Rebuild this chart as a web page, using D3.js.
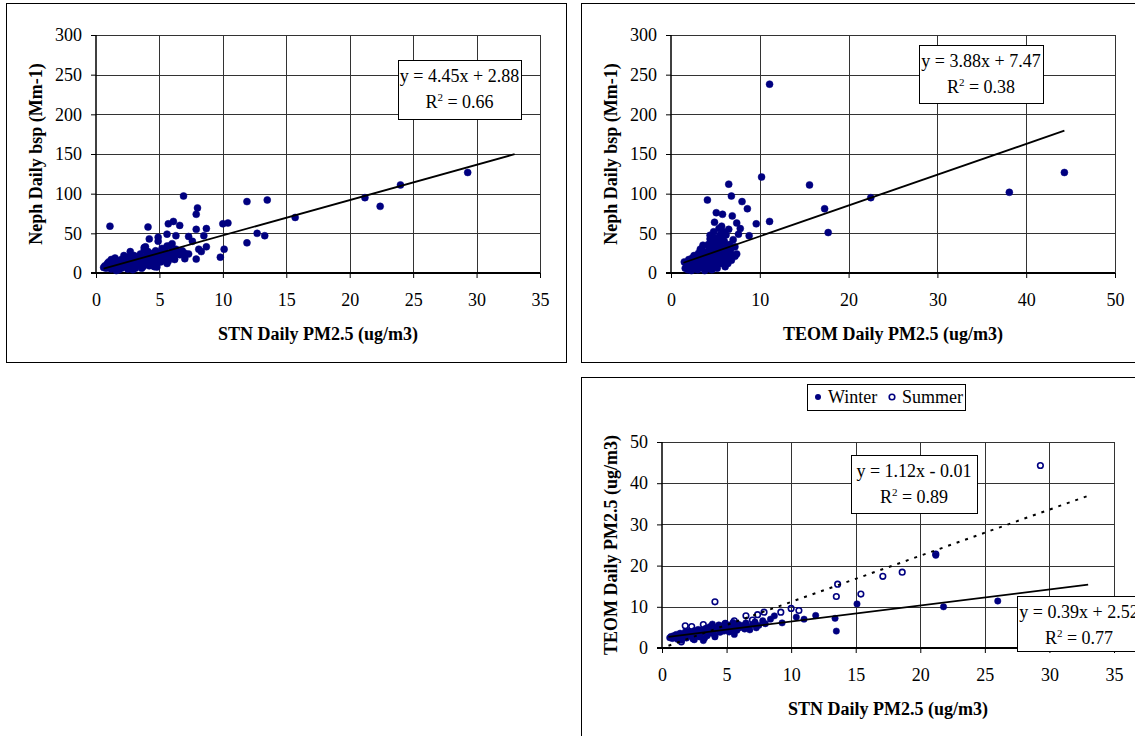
<!doctype html>
<html>
  <head>
    <meta charset="utf-8">
    <title>Neph / STN / TEOM scatter</title>
    <script src="https://cdn.jsdelivr.net/npm/d3@7"></script>
    <style>
      body { margin: 0; background: #fff; }
      svg { display: block; font-family: "Liberation Serif", "Times New Roman", serif; }
      .frame { fill: none; stroke: #000; stroke-width: 1; }
      .grid line { stroke: #333; stroke-width: 1; shape-rendering: crispEdges; }
      .tick text { font-size: 18px; fill: #000; }
      .tick line { stroke: #000; }
      .title { font-size: 18px; font-weight: bold; }
      .eqbox { fill: #fff; stroke: #000; stroke-width: 1; }
      .eq { font-size: 18px; }
    </style>
  </head>
  <body>
    <svg id="chart" width="1135" height="736"></svg>
    <script>
      // chart 1: STN PM2.5 vs Neph bsp
      var nephStn = [
        [29.3,126.7],[24.0,111],[22.4,84],[21.2,95],[15.7,70],[13.5,92],[11.9,90],[12.7,50],
        [13.3,47],[11.9,38],[10.4,63],[10.0,62],[10.1,30],[9.8,20],[6.9,97],[8.0,82],[7.9,74],
        [7.9,55],[8.7,56],[8.5,47],[8.7,33],[8.1,30],[8.3,27],[7.9,17.5],[7.3,46],[7.6,40],
        [6.6,60],[6.1,65],[5.7,62],[6.3,47],[5.6,49],[6.0,37],[5.6,34],[4.9,45],[4.9,40],
        [4.2,43],[4.1,58],[1.1,59],[4.8,7.5],[3.8,32],[3.8,29],[2.7,27],[7.3,24],[7.0,18],[6.7,26],
        [0.6,7],[0.7,9],[0.8,6],[0.9,12],[1.0,8],[1.0,14],[1.1,10],[1.2,5],[1.3,11],[1.4,16],
        [1.5,9],[1.5,19],[1.6,3],[1.6,13],[1.7,7],[1.8,15],[1.9,10],[2.0,17],[2.0,6],[2.1,12],
        [2.2,8],[2.3,18],[2.3,14],[2.4,10],[2.5,20],[2.5,5],[2.6,15],[2.7,11],[2.8,8],[2.9,19],
        [3.0,13],[3.0,22],[3.1,6],[3.2,16],[3.3,11],[3.3,20],[3.4,9],[3.5,17],[3.5,24],[3.6,13],
        [3.7,8],[3.8,19],[3.9,15],[4.0,22],[4.0,11],[4.1,27],[4.2,17],[4.3,13],[4.4,20],[4.5,25],
        [4.5,15],[4.6,18],[4.7,28],[4.8,12],[4.9,21],[5.0,17],[5.0,25],[5.1,14],[5.2,19],[5.3,22],
        [5.4,30],[5.5,18],[5.5,26],[5.6,21],[5.7,15],[5.8,24],[5.9,19],[6.0,27],[6.1,22],[6.2,17],
        [6.4,25],[6.6,23],[6.8,28],[7.0,25],[1.2,17],[1.8,4],[2.2,22],[2.9,4],[3.6,6],[4.2,9],
        [3.9,33],[4.6,8],[5.2,31],[5.8,34],[6.3,30],[2.0,11],[1.4,6],[2.6,9],[3.1,15],[3.4,12],
        [4.4,10],[5.6,12],[4.8,16]
      ];

      // chart 2: TEOM PM2.5 vs Neph bsp
      var nephTeom = [
        [44.3,126.7],[38.1,101.7],[22.5,95],[17.3,81],[17.7,51],[15.6,111],[11.1,238],[10.2,121],
        [11.1,65],[9.6,62],[8.8,47],[8.6,81],[8.0,90],[6.5,112],[6.8,97],[4.1,92],[6.9,72],
        [5.8,74],[5.1,76],[4.9,64],[7.4,63],[7.8,56],[7.6,49],[7.2,33],[7.2,22],[4.4,47.5],
        [4.4,43],[6.5,55],[5.7,59],[4.3,32],[3.5,31],
        [1.5,14],[1.6,6],[1.8,10],[1.9,4],[2.0,17],[2.1,8],[2.2,12],[2.3,3],[2.4,19],[2.5,9],
        [2.6,14],[2.7,6],[2.8,21],[2.9,11],[3.0,16],[3.0,4],[3.1,25],[3.2,9],[3.3,13],[3.4,19],
        [3.5,7],[3.5,28],[3.6,15],[3.7,22],[3.8,11],[3.9,17],[4.0,5],[4.0,26],[4.1,14],[4.2,20],
        [4.3,9],[4.4,30],[4.5,16],[4.5,24],[4.6,12],[4.7,38],[4.8,19],[4.9,27],[5.0,8],[5.0,34],
        [5.1,22],[5.2,15],[5.3,42],[5.3,28],[5.4,18],[5.5,36],[5.6,24],[5.6,12],[5.7,46],[5.8,30],
        [5.9,20],[6.0,40],[6.0,15],[6.1,26],[6.2,33],[6.3,22],[6.5,18],[6.7,28],[6.9,22],[7.2,21],
        [5.2,6],[4.2,36],[3.3,30],[2.6,22],[5.9,52],[5.5,48],[5.0,44],[4.6,4],[3.8,3],[6.4,12],
        [6.6,36],[7.0,42],[6.2,48],[5.4,56],[6.8,16],[7.4,24],[6.1,8],[4.9,13],[3.6,35],[4.8,52]
      ];

      // chart 3: STN vs TEOM, by season
      var winterPts = [
        [26.0,11.4],[21.8,10.0],[15.1,10.7],[13.5,4.1],[13.4,7.2],[11.9,7.9],[11.0,7.0],[10.4,7.5],
        [9.3,6.1],[8.7,7.8],[8.4,7.0],[21.2,22.5],
        [0.6,2.5],[0.7,2.8],[0.8,2.3],[0.9,3.0],[1.0,2.6],[1.1,3.3],[1.2,2.1],[1.3,3.0],[1.4,3.6],
        [1.5,2.5],[1.6,3.2],[1.7,2.8],[1.8,3.9],[1.9,2.4],[2.0,3.4],[2.1,4.1],[2.2,2.9],[2.3,3.6],
        [2.4,2.2],[2.5,4.2],[2.6,3.1],[2.7,3.8],[2.8,4.5],[2.9,2.7],[3.0,3.5],[3.1,4.3],[3.2,1.8],
        [3.3,3.9],[3.4,4.8],[3.5,3.0],[3.6,4.4],[3.7,5.2],[3.8,3.6],[3.9,5.8],[4.0,4.2],[4.1,3.0],
        [4.2,5.0],[4.3,4.5],[4.4,5.6],[4.5,3.8],[4.6,4.8],[4.7,5.4],[4.8,4.1],[4.9,5.9],[5.0,4.6],
        [5.1,5.2],[5.2,3.9],[5.3,5.6],[5.4,4.4],[5.5,6.2],[5.6,3.3],[5.7,5.0],[5.8,4.3],[5.9,5.8],
        [6.0,4.9],[6.2,5.5],[6.4,4.6],[6.5,6.1],[6.6,5.2],[6.8,4.4],[7.0,5.7],[7.2,6.3],[7.3,4.9],
        [7.5,5.5],[7.8,6.6],[8.0,5.9],[3.3,2.4],[2.5,2.0],[4.1,2.7],[1.5,1.9]
      ];
      var summerPts = [
        [29.3,44.3],[21.2,22.8],[18.6,18.4],[17.1,17.4],[15.4,13.1],[13.6,15.5],[13.5,12.5],
        [10.6,9.1],[10.0,9.6],[9.2,8.7],[7.9,8.7],[7.4,8.1],[6.5,7.8],[4.1,11.2],[1.8,5.4],
        [2.3,5.2],[1.5,1.5],[5.6,6.6],[3.2,5.7],[7.0,6.8],[4.9,6.0]
      ];

      // trendlines: [slope, intercept, xStart, xEnd]
      var fitNephStn = [4.45, 2.88, 0.6, 33];
      var fitNephTeom = [3.88, 7.47, 1.4, 44.3];
      var fitSummer = [1.12, -0.01, 0.5, 33];
      var fitWinter = [0.39, 2.52, 0.5, 33];

      var nephTicks = [0, 50, 100, 150, 200, 250, 300];
      var stnTicks = [0, 5, 10, 15, 20, 25, 30, 35];
      var teomTicks = [0, 10, 20, 30, 40, 50];
      var teomYTicks = [0, 10, 20, 30, 40, 50];

      var svg = d3.select('#chart');
      var navy = '#000080';
      var serif = '"Liberation Serif", "Times New Roman", serif';

      var panel = function(o) {
        var g = svg.append('g');
        g.append('rect').attr('class', 'frame')
          .attr('x', o.frame[0] + 0.5).attr('y', o.frame[1] + 0.5)
          .attr('width', o.frame[2]).attr('height', o.frame[3]);

        var x = d3.scaleLinear().domain([0, d3.max(o.xTicks)]).range([o.left, o.right]);
        var y = d3.scaleLinear().domain([0, d3.max(o.yTicks)]).range([o.bottom, o.top]);

        var grid = g.append('g').attr('class', 'grid');
        grid.selectAll('.h').data(o.yTicks.slice(1)).enter().append('line')
          .attr('x1', o.left).attr('x2', o.right)
          .attr('y1', function(d) { return Math.round(y(d)) + 0.5; })
          .attr('y2', function(d) { return Math.round(y(d)) + 0.5; });
        grid.selectAll('.v').data(o.xTicks.slice(1)).enter().append('line')
          .attr('y1', o.top).attr('y2', o.bottom)
          .attr('x1', function(d) { return Math.round(x(d)) + 0.5; })
          .attr('x2', function(d) { return Math.round(x(d)) + 0.5; });

        var xa = g.append('g').attr('transform', 'translate(0,' + o.bottom + ')')
          .call(d3.axisBottom(x).tickValues(o.xTicks).tickSize(5).tickPadding(15));
        xa.select('.domain').remove();
        var ya = g.append('g').attr('transform', 'translate(' + o.left + ',0)')
          .call(d3.axisLeft(y).tickValues(o.yTicks).tickSize(5).tickPadding(9));
        ya.select('.domain').remove();
        xa.attr('font-family', serif);
        ya.attr('font-family', serif);

        g.append('line').attr('x1', o.left).attr('x2', o.left).attr('y1', o.top).attr('y2', o.bottom)
          .attr('stroke', '#000').attr('stroke-width', 1.5);
        g.append('line').attr('x1', o.left - 5).attr('x2', o.right).attr('y1', o.bottom).attr('y2', o.bottom)
          .attr('stroke', '#000').attr('stroke-width', 2.2);

        // series
        o.series.forEach(function(s) {
          g.selectAll(null).data(s.pts).enter().append('circle')
            .attr('cx', function(d) { return x(d[0]); })
            .attr('cy', function(d) { return y(d[1]); })
            .attr('r', s.r)
            .attr('fill', s.open ? 'none' : navy)
            .attr('stroke', navy)
            .attr('stroke-width', s.open ? 1.6 : 0.5);
        });

        o.fits.forEach(function(f) {
          var p = f.fit;
          g.append('line')
            .attr('x1', x(p[2])).attr('y1', y(p[0] * p[2] + p[1]))
            .attr('x2', x(p[3])).attr('y2', y(p[0] * p[3] + p[1]))
            .attr('stroke', '#000').attr('stroke-width', f.dash ? 2 : 1.8)
            .attr('stroke-dasharray', f.dash ? '3,6' : null);
        });

        o.boxes.forEach(function(b) {
          g.append('rect').attr('class', 'eqbox')
            .attr('x', b.x + 0.5).attr('y', b.y + 0.5).attr('width', b.w).attr('height', b.h);
          var cx = b.x + b.w / 2;
          g.append('text').attr('class', 'eq').attr('x', cx).attr('y', b.y + 22)
            .attr('text-anchor', 'middle').text(b.eq);
          var r = g.append('text').attr('class', 'eq').attr('x', cx).attr('y', b.y + 48)
            .attr('text-anchor', 'middle');
          r.append('tspan').text('R');
          r.append('tspan').attr('dy', -7).style('font-size', '11px').text('2');
          r.append('tspan').attr('dy', 7).text(' = ' + b.r2);
        });

        g.append('text').attr('class', 'title')
          .attr('x', (o.left + o.right) / 2).attr('y', o.bottom + 67)
          .attr('text-anchor', 'middle').text(o.xTitle);
        g.append('text').attr('class', 'title')
          .attr('transform', 'translate(' + o.yTitleX + ',' + (o.top + o.bottom) / 2 + ') rotate(-90)')
          .attr('text-anchor', 'middle').text(o.yTitle);
        return g;
      };

      panel({
        frame: [6, 3, 560, 359], left: 96, right: 540, top: 35, bottom: 273,
        xTicks: stnTicks, yTicks: nephTicks,
        series: [{ pts: nephStn, r: 3.5 }],
        fits: [{ fit: fitNephStn }],
        boxes: [{ x: 398, y: 60, w: 123, h: 59, eq: 'y = 4.45x + 2.88', r2: '0.66' }],
        xTitle: 'STN Daily PM2.5 (ug/m3)', yTitle: 'Neph Daily bsp (Mm-1)', yTitleX: 42
      });

      panel({
        frame: [581, 3, 600, 359], left: 671, right: 1115, top: 35, bottom: 273,
        xTicks: teomTicks, yTicks: nephTicks,
        series: [{ pts: nephTeom, r: 3.5 }],
        fits: [{ fit: fitNephTeom }],
        boxes: [{ x: 919, y: 45, w: 124, h: 58, eq: 'y = 3.88x + 7.47', r2: '0.38' }],
        xTitle: 'TEOM Daily PM2.5 (ug/m3)', yTitle: 'Neph Daily bsp (Mm-1)', yTitleX: 617
      });

      var g3 = panel({
        frame: [581, 377, 600, 400], left: 662, right: 1114, top: 442, bottom: 648,
        xTicks: stnTicks, yTicks: teomYTicks,
        series: [{ pts: winterPts, r: 3.2 }, { pts: summerPts, r: 2.8, open: true }],
        fits: [{ fit: fitSummer, dash: true }, { fit: fitWinter }],
        boxes: [{ x: 851, y: 455, w: 126, h: 58, eq: 'y = 1.12x - 0.01', r2: '0.89' },
                { x: 1017, y: 596, w: 124, h: 55, eq: 'y = 0.39x + 2.52', r2: '0.77' }],
        xTitle: 'STN Daily PM2.5 (ug/m3)', yTitle: 'TEOM Daily PM2.5 (ug/m3)', yTitleX: 617
      });

      // legend
      var lg = g3.append('g');
      lg.append('rect').attr('class', 'eqbox').attr('x', 807.5).attr('y', 384.5).attr('width', 158).attr('height', 26);
      lg.append('circle').attr('cx', 818).attr('cy', 397).attr('r', 3).attr('fill', navy);
      lg.append('text').attr('class', 'eq').attr('x', 828).attr('y', 403).text('Winter');
      lg.append('circle').attr('cx', 892).attr('cy', 397).attr('r', 2.8).attr('fill', 'none')
        .attr('stroke', navy).attr('stroke-width', 1.6);
      lg.append('text').attr('class', 'eq').attr('x', 902).attr('y', 403).text('Summer');
    </script>
  </body>
</html>
